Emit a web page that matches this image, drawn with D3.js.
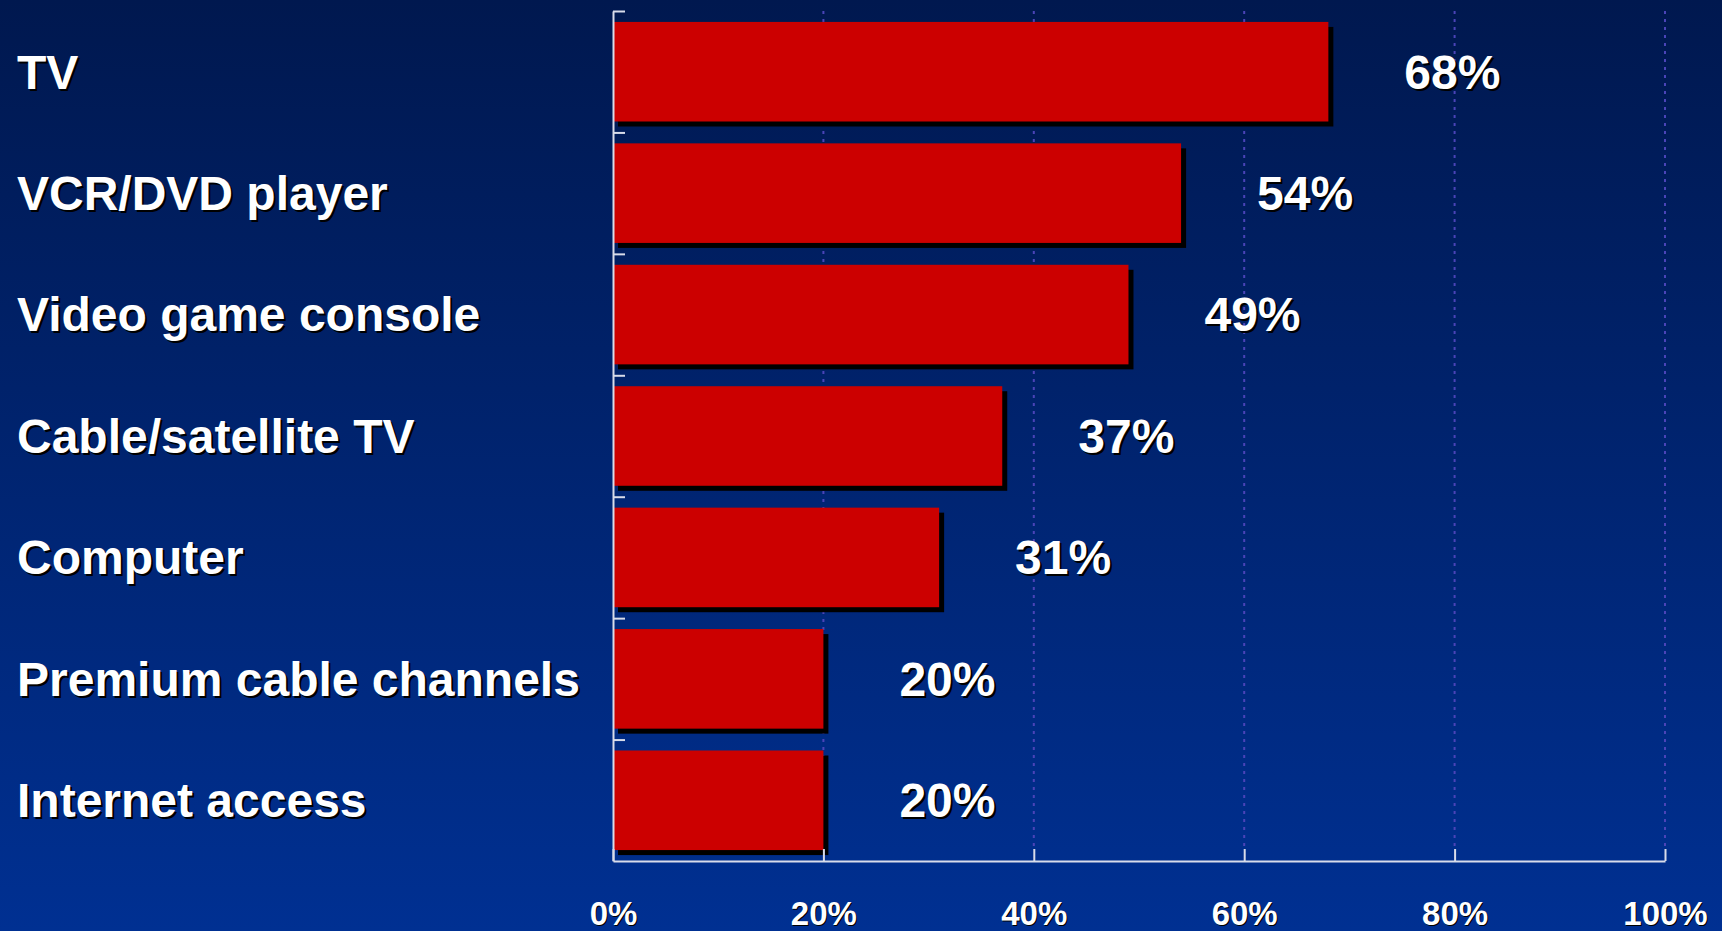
<!DOCTYPE html>
<html>
<head>
<meta charset="utf-8">
<script src="https://cdn.jsdelivr.net/npm/d3@7"></script>
<style>
  html, body { margin: 0; padding: 0; overflow: hidden; }
  text { font-family: Arial, "Liberation Sans", sans-serif; font-weight: bold; fill: #fff; }
</style>
</head>
<body>
<div id="chart"></div>
<script>
// Data
const categories = ["TV", "VCR/DVD player", "Video game console", "Cable/satellite TV",
                    "Computer", "Premium cable channels", "Internet access"];
const values = [68, 54, 49, 37, 31, 20, 20];
const xTicks = [0, 20, 40, 60, 80, 100];

// Dimensions
const W = 1722, H = 931;
const margin = { top: 11, right: 57, bottom: 70, left: 613 };
const width = W - margin.left - margin.right;
const height = H - margin.top - margin.bottom;

const svgRoot = d3.select("#chart").append("svg")
    .attr("width", W)
    .attr("height", H);

// Background gradient
const grad = svgRoot.append("defs").append("linearGradient")
    .attr("id", "bg").attr("x1", 0).attr("y1", 0).attr("x2", 0).attr("y2", 1);
grad.append("stop").attr("offset", "0%").attr("stop-color", "#00184f");
grad.append("stop").attr("offset", "100%").attr("stop-color", "#003092");
svgRoot.append("rect").attr("width", W).attr("height", H).attr("fill", "url(#bg)");

const svg = svgRoot.append("g")
    .attr("transform", `translate(${margin.left},${margin.top})`);

// Scales
const x = d3.scaleLinear().domain([0, 100]).range([0, width]);
const y = d3.scaleBand().domain(categories).range([0, height])
    .paddingInner(0.18).paddingOuter(0.09);
const yEdges = d3.scaleLinear().domain([0, categories.length]).range([0, height]);

// Dotted gridlines
svg.append("g")
    .selectAll("line")
    .data(xTicks.filter(d => d > 0))
    .enter().append("line")
    .attr("x1", d => x(d)).attr("x2", d => x(d))
    .attr("y1", 0).attr("y2", height - 12)
    .attr("stroke", "#4a44b8")
    .attr("stroke-width", 2)
    .attr("stroke-dasharray", "3,5");

// Bar shadows
svg.append("g")
    .selectAll("rect")
    .data(values)
    .enter().append("rect")
    .attr("x", 5)
    .attr("y", (d, i) => y(categories[i]) + 5)
    .attr("width", d => x(d))
    .attr("height", y.bandwidth())
    .attr("fill", "#000");

// Bars
svg.append("g")
    .selectAll("rect")
    .data(values)
    .enter().append("rect")
    .attr("x", 0)
    .attr("y", (d, i) => y(categories[i]))
    .attr("width", d => x(d))
    .attr("height", y.bandwidth())
    .attr("fill", "#cc0000");

// Axes
const xAxis = svg.append("g")
    .attr("transform", `translate(0,${height})`)
    .call(d3.axisBottom(x)
        .tickValues(xTicks)
        .tickSizeInner(-12)
        .tickSizeOuter(0)
        .tickPadding(41)
        .tickFormat(d => d + "%"));
xAxis.select(".domain").attr("stroke", "#d8dcea").attr("stroke-width", 2);
xAxis.selectAll(".tick line").attr("stroke", "#d8dcea").attr("stroke-width", 2);
xAxis.selectAll("text")
    .attr("fill", "#fff")
    .style("font-size", "33px")
    .style("font-family", "Arial, 'Liberation Sans', sans-serif")
    .style("font-weight", "bold")
    .style("text-shadow", "1px 1px 0 #000");

const yAxis = svg.append("g")
    .call(d3.axisLeft(yEdges)
        .tickValues(d3.range(categories.length))
        .tickSizeInner(-12)
        .tickSizeOuter(0)
        .tickFormat(""));
yAxis.select(".domain").attr("stroke", "#d8dcea").attr("stroke-width", 2);
yAxis.selectAll(".tick line").attr("stroke", "#d8dcea").attr("stroke-width", 2);

// Category labels
svgRoot.append("g")
    .selectAll("text")
    .data(categories)
    .enter().append("text")
    .attr("x", 17)
    .attr("y", d => margin.top + y(d) + y.bandwidth() / 2)
    .attr("dy", "0.35em")
    .style("font-size", "48px")
    .style("text-shadow", "2px 2px 0 #000")
    .text(d => d);

// Value labels
svg.append("g")
    .selectAll("text")
    .data(values)
    .enter().append("text")
    .attr("x", d => x(d) + 76)
    .attr("y", (d, i) => y(categories[i]) + y.bandwidth() / 2)
    .attr("dy", "0.35em")
    .style("font-size", "48px")
    .style("text-shadow", "2px 2px 0 #000")
    .text(d => d + "%");
</script>
</body>
</html>
